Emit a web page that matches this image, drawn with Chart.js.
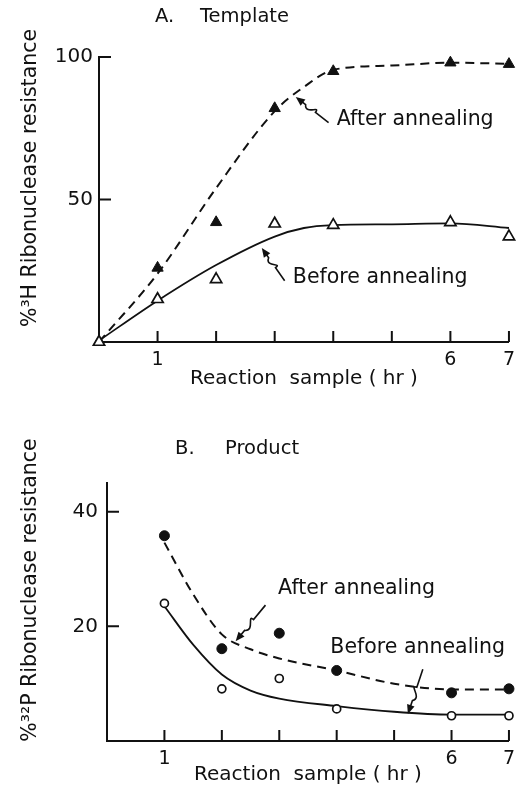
<!DOCTYPE html>
<html>
<head>
<meta charset="utf-8">
<script src="https://cdn.jsdelivr.net/npm/chart.js@4/dist/chart.umd.min.js"></script>
<style>
  html, body { margin: 0; padding: 0; background: #fff; }
  canvas { display: block; }
</style>
</head>
<body>
<canvas id="chartA" width="522" height="394"></canvas>
<canvas id="chartB" width="522" height="394"></canvas>
<script>
// panel A - template
const hoursA = [0, 1, 2, 3, 4, 6, 7];
const templateAfter = [0, 26, 42, 82, 95, 98, 97.5];
const templateBefore = [0, 15, 22, 41.5, 41, 42, 37];
const curveHoursA = [0, 1, 2, 3, 3.5, 4, 5, 6, 7];
const templateAfterCurve = [0, 24, 54, 81, 89.5, 95.5, 97, 98, 97.6];
const templateBeforeCurve = [0.5, 14.5, 27, 37, 40, 41, 41.3, 41.6, 40];

// panel B - product
const hoursB = [1, 2, 3, 4, 6, 7];
const productAfter = [35.8, 16.1, 18.8, 12.3, 8.4, 9.1];
const productBefore = [24, 9.1, 10.9, 5.6, 4.4, 4.4];
const curveHoursB = [1, 1.5, 2, 2.5, 3, 4, 5, 6, 7];
const productAfterCurve = [34.6, 25.6, 18.6, 16, 14.4, 12.3, 10, 9, 9];
const productBeforeCurve = [23.5, 16.8, 11.6, 8.8, 7.4, 6.1, 5.1, 4.6, 4.6];

const xTicks = [1, 2, 3, 4, 5, 6, 7];
const xTickLabels = ['1', '6', '7'];
const yTicksA = [50, 100];
const yTicksB = [20, 40];

const FONT = "'DejaVu Sans', sans-serif";
const INK = '#111';

function pts(xs, ys) {
    return xs.map((x, i) => ({ x: x, y: ys[i] }));
}

// squiggly arrow from tail to tip, drawn in data space
function drawArrow(ctx, xs, ys, tail, tip) {
    const x0 = xs.getPixelForValue(tail[0]), y0 = ys.getPixelForValue(tail[1]);
    const x1 = xs.getPixelForValue(tip[0]), y1 = ys.getPixelForValue(tip[1]);
    const len = Math.hypot(x1 - x0, y1 - y0);
    const dx = (x1 - x0) / len, dy = (y1 - y0) / len;
    const nx = -dy, ny = dx;
    const at = f => [x0 + dx * len * f, y0 + dy * len * f];
    const a = at(0.4), b = at(0.7);
    ctx.beginPath();
    ctx.moveTo(x0, y0);
    ctx.lineTo(a[0], a[1]);
    ctx.bezierCurveTo(a[0] + nx * 9, a[1] + ny * 9, b[0] - nx * 9 - dx * 6, b[1] - ny * 9 - dy * 6, b[0], b[1]);
    ctx.lineTo(x1 - dx * 4, y1 - dy * 4);
    ctx.stroke();
    const ang = Math.atan2(dy, dx);
    ctx.beginPath();
    ctx.moveTo(x1, y1);
    ctx.lineTo(x1 - 10 * Math.cos(ang - 0.4), y1 - 10 * Math.sin(ang - 0.4));
    ctx.lineTo(x1 - 10 * Math.cos(ang + 0.4), y1 - 10 * Math.sin(ang + 0.4));
    ctx.closePath();
    ctx.fill();
}

const decor = {
    id: 'decor',
    afterDraw(chart, args, opts) {
        const { ctx, chartArea } = chart;
        const xs = chart.scales.x, ys = chart.scales.y;
        ctx.save();
        ctx.strokeStyle = INK;
        ctx.fillStyle = INK;
        ctx.lineWidth = 2;
        // inward ticks
        ctx.beginPath();
        xTicks.forEach(v => {
            const px = xs.getPixelForValue(v);
            ctx.moveTo(px, chartArea.bottom);
            ctx.lineTo(px, chartArea.bottom - 11);
        });
        opts.yTicks.forEach(v => {
            const py = ys.getPixelForValue(v);
            ctx.moveTo(chartArea.left, py);
            ctx.lineTo(chartArea.left + 12, py);
        });
        ctx.stroke();
        // panel title
        ctx.font = '19.5px ' + FONT;
        ctx.textBaseline = 'middle';
        ctx.textAlign = 'left';
        ctx.fillText(opts.title[0], opts.titleAt[0], opts.titleAt[1]);
        ctx.fillText(opts.title[1], opts.titleAt[2], opts.titleAt[1]);
        // y axis title
        ctx.save();
        ctx.translate(opts.yTitleAt[0], opts.yTitleAt[1]);
        ctx.rotate(-Math.PI / 2);
        ctx.textAlign = 'center';
        ctx.font = '20.5px ' + FONT;
        ctx.fillText(opts.yTitle, 0, 0);
        ctx.restore();
        // notes
        ctx.font = '20.5px ' + FONT;
        ctx.lineWidth = 1.6;
        opts.notes.forEach(n => {
            ctx.fillText(n.text, xs.getPixelForValue(n.at[0]), ys.getPixelForValue(n.at[1]));
            drawArrow(ctx, xs, ys, n.tail, n.tip);
        });
        ctx.restore();
    }
};

function makePanel(id, cfg) {
    const ctx = document.getElementById(id).getContext('2d');
    const tri = cfg.marker === 'triangle';
    return new Chart(ctx, {
        type: 'scatter',
        data: {
            datasets: [
                {
                    data: pts(cfg.hours, cfg.before),
                    pointStyle: cfg.marker,
                    pointRadius: tri ? 6.5 : 4,
                    backgroundColor: '#fff',
                    borderColor: INK,
                    borderWidth: 1.7,
                    clip: false
                },
                {
                    data: pts(cfg.hours, cfg.after),
                    pointStyle: cfg.marker,
                    pointRadius: tri ? 6.5 : 5,
                    backgroundColor: INK,
                    borderColor: INK,
                    borderWidth: 1,
                    clip: false
                },
                {
                    data: pts(cfg.curveHours, cfg.afterCurve),
                    showLine: true,
                    pointRadius: 0,
                    borderColor: INK,
                    borderWidth: 2,
                    borderDash: [9, 6],
                    cubicInterpolationMode: 'monotone',
                    clip: false
                },
                {
                    data: pts(cfg.curveHours, cfg.beforeCurve),
                    showLine: true,
                    pointRadius: 0,
                    borderColor: INK,
                    borderWidth: 1.8,
                    cubicInterpolationMode: 'monotone',
                    clip: false
                }
            ]
        },
        options: {
            responsive: false,
            animation: false,
            layout: { padding: { top: cfg.top, right: cfg.right, left: 0, bottom: 0 } },
            plugins: {
                legend: { display: false },
                tooltip: { enabled: false },
                decor: {
                    title: cfg.title, titleAt: cfg.titleAt, yTicks: cfg.yTicks,
                    yTitle: cfg.yTitle, yTitleAt: cfg.yTitleAt, notes: cfg.notes
                }
            },
            scales: {
                x: {
                    type: 'linear',
                    min: 0,
                    max: 7,
                    grid: { display: false, drawTicks: false },
                    border: { display: true, color: INK, width: 2 },
                    afterFit(scale) { scale.height = cfg.xHeight; },
                    afterBuildTicks(scale) { scale.ticks = xTicks.map(v => ({ value: v })); },
                    ticks: {
                        padding: 7,
                        color: INK,
                        font: { family: FONT, size: 19 },
                        callback: v => xTickLabels.includes(String(v)) ? String(v) : ''
                    },
                    title: {
                        display: true,
                        text: 'Reaction  sample ( hr )',
                        color: INK,
                        font: { family: FONT, size: 20 },
                        padding: { top: 0, bottom: cfg.xTitlePad }
                    }
                },
                y: {
                    type: 'linear',
                    min: 0,
                    max: cfg.yMax,
                    grid: { display: false, drawTicks: false },
                    border: { display: true, color: INK, width: 2 },
                    afterFit(scale) { scale.width = cfg.yWidth; },
                    afterBuildTicks(scale) { scale.ticks = cfg.yTicks.map(v => ({ value: v })); },
                    ticks: {
                        padding: cfg.yPad,
                        color: INK,
                        font: { family: FONT, size: 20 }
                    },
                    title: { display: false }
                }
            }
        },
        plugins: [decor]
    });
}

makePanel('chartA', {
    hours: hoursA, after: templateAfter, before: templateBefore,
    curveHours: curveHoursA, afterCurve: templateAfterCurve, beforeCurve: templateBeforeCurve,
    marker: 'triangle', yMax: 100, yTicks: yTicksA,
    yTitle: '%\u00B3H Ribonuclease resistance', yTitleAt: [31, 178],
    title: ['A.', 'Template'], titleAt: [155, 17, 200],
    top: 57, right: 13, yWidth: 99, yPad: 6, xHeight: 52, xTitlePad: 3,
    notes: [
        { text: 'After annealing', at: [4.06, 78], tail: [3.92, 77], tip: [3.36, 86] },
        { text: 'Before annealing', at: [3.31, 22.5], tail: [3.17, 21.5], tip: [2.78, 33] }
    ]
});

makePanel('chartB', {
    hours: hoursB, after: productAfter, before: productBefore,
    curveHours: curveHoursB, afterCurve: productAfterCurve, beforeCurve: productBeforeCurve,
    marker: 'circle', yMax: 45, yTicks: yTicksB,
    yTitle: '%\u00B3\u00B2P Ribonuclease resistance', yTitleAt: [31, 196],
    title: ['B.', 'Product'], titleAt: [175, 55, 225],
    top: 89, right: 7, yWidth: 107, yPad: 9, xHeight: 47, xTitlePad: 1,
    notes: [
        { text: 'After annealing', at: [2.98, 26.5], tail: [2.76, 23.7], tip: [2.24, 17.4] },
        { text: 'Before annealing', at: [3.89, 16.3], tail: [5.5, 12.5], tip: [5.24, 4.7] }
    ]
});
</script>
</body>
</html>
